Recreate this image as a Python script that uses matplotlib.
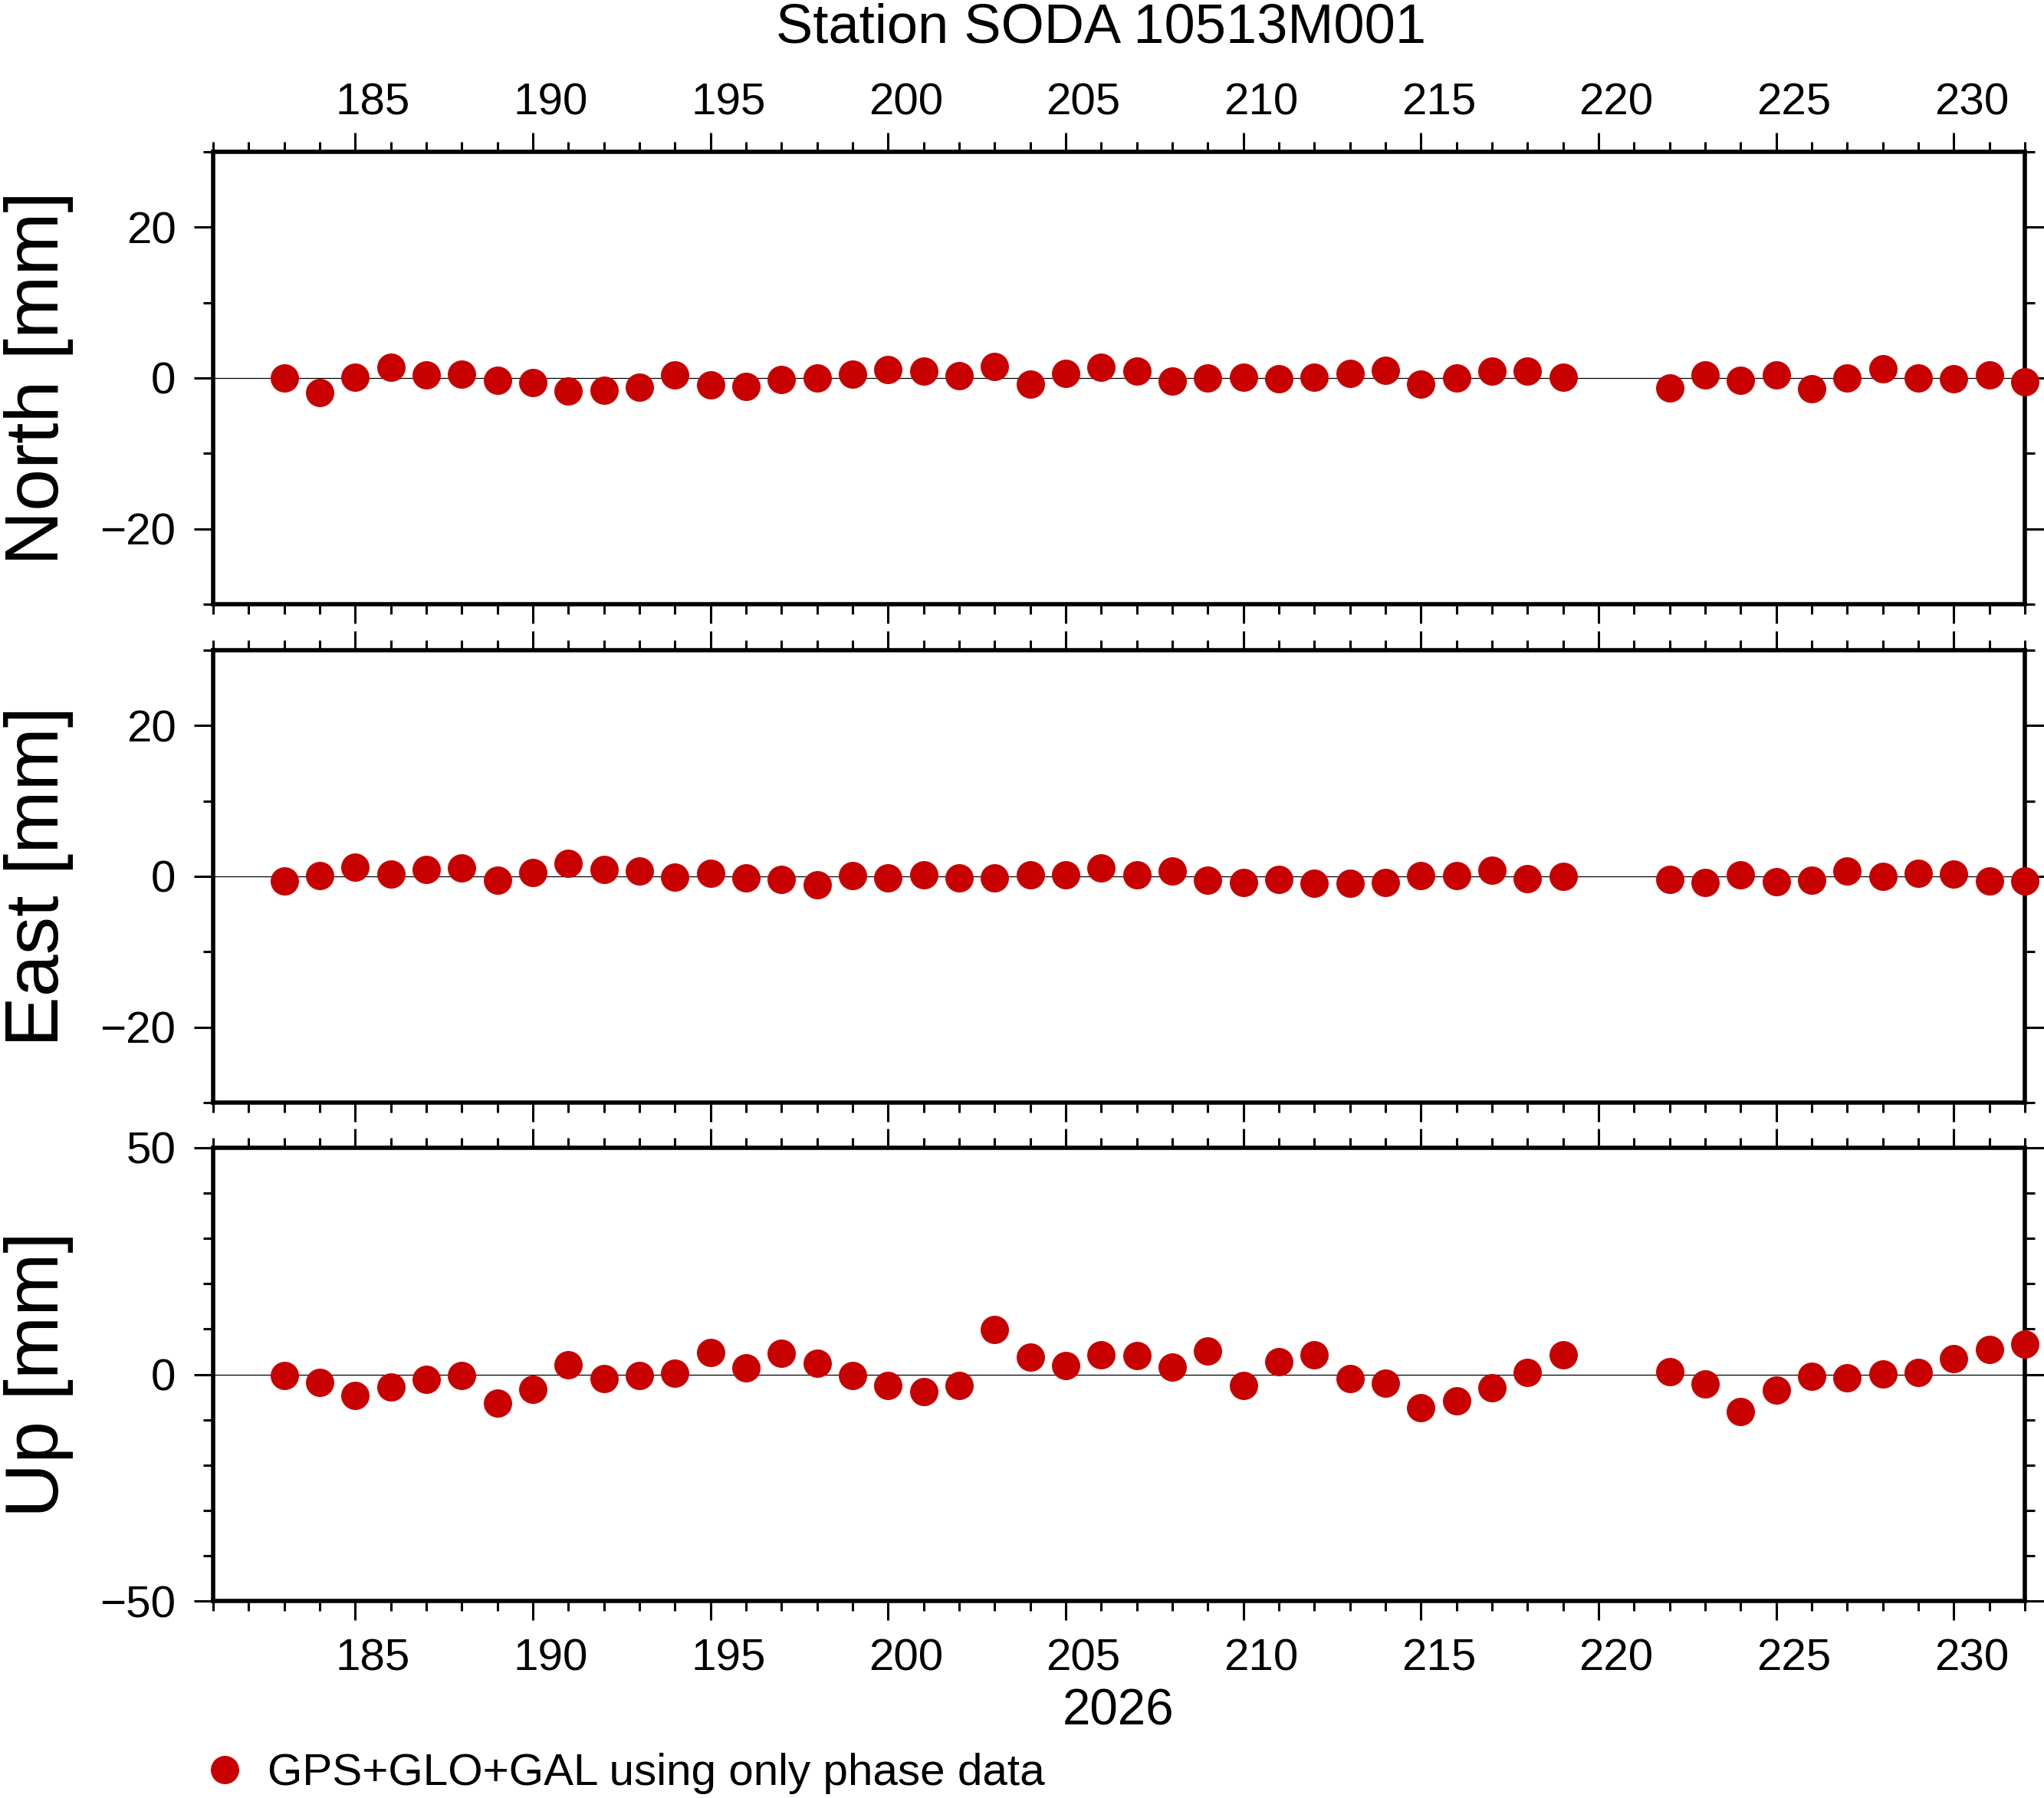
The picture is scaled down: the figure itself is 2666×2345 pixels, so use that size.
import matplotlib
matplotlib.use("Agg")
import matplotlib.pyplot as plt
from matplotlib.ticker import MultipleLocator
from matplotlib.transforms import ScaledTranslation

plt.rcParams['font.family'] = ['Liberation Sans', 'DejaVu Sans']

# day of year 2026 (no solutions on 220, 221)
days = [183, 184, 185, 186, 187, 188, 189, 190, 191, 192, 193, 194, 195, 196,
        197, 198, 199, 200, 201, 202, 203, 204, 205, 206, 207, 208, 209, 210,
        211, 212, 213, 214, 215, 216, 217, 218, 219,
        222, 223, 224, 225, 226, 227, 228, 229, 230, 231, 232]

north = [0.0, -1.9, 0.1, 1.4, 0.4, 0.5, -0.3, -0.6, -1.7, -1.6, -1.2, 0.4, -0.9, -1.1,
         -0.2, 0.0, 0.5, 1.1, 0.9, 0.3, 1.5, -0.8, 0.6, 1.4, 0.9, -0.4, 0.0, 0.1,
         -0.1, 0.1, 0.6, 1.0, -0.8, 0.0, 0.9, 0.9, 0.1,
         -1.3, 0.4, -0.3, 0.4, -1.4, 0.0, 1.2, 0.0, -0.1, 0.4, -0.5]

east = [-0.6, 0.1, 1.2, 0.3, 0.9, 1.1, -0.5, 0.5, 1.7, 0.9, 0.7, -0.1, 0.4, -0.2,
        -0.4, -1.1, 0.1, -0.2, 0.2, -0.2, -0.2, 0.2, 0.2, 1.1, 0.2, 0.7, -0.5, -0.8,
        -0.4, -0.9, -0.9, -0.8, 0.1, 0.1, 0.8, -0.3, 0.0,
        -0.4, -0.8, 0.2, -0.7, -0.5, 0.7, 0.0, 0.4, 0.3, -0.6, -0.6]

up = [-0.2, -1.7, -4.7, -2.8, -1.1, -0.3, -6.4, -3.3, 2.1, -1.0, -0.3, 0.2, 4.8, 1.4,
      4.6, 2.4, -0.3, -2.5, -3.8, -2.5, 9.9, 3.8, 1.9, 4.3, 4.1, 1.6, 5.1, -2.5,
      2.8, 4.3, -1.0, -2.0, -7.4, -5.9, -3.0, 0.4, 4.3,
      0.6, -2.1, -8.2, -3.5, -0.5, -0.8, 0.1, 0.4, 3.4, 5.5, 6.6]

components = ['North', 'East', 'Up']
series = [north, east, up]
ylims = [(-30, 30), (-30, 30), (-50, 50)]
ymajor = [20, 20, 50]
yminor = [10, 10, 10]

title = 'Station SODA 10513M001'
year_label = '2026'
legend_label = 'GPS+GLO+GAL using only phase data'
dot_color = '#c80000'

W, H = 2666, 2345
DPI = 200
fig = plt.figure(figsize=(W / DPI, H / DPI), dpi=DPI)

left, right = 278 / W, 2641 / W
panel_px = [(198, 788), (848, 1438), (1497, 2088)]
day_px = (2641 - 278) / (232 - 181)

handle = None
for i, (name, vals) in enumerate(zip(components, series)):
    top_px, bot_px = panel_px[i]
    ax = fig.add_axes([left, 1 - bot_px / H, right - left, (bot_px - top_px) / H])
    ax.axhline(0, color='black', lw=0.45, zorder=1)
    line, = ax.plot(days, vals, 'o', ms=13.3, color=dot_color, mec='none',
                    clip_on=False, zorder=3)
    if handle is None:
        handle = line
    ax.set_xlim(181, 232)
    ax.set_ylim(*ylims[i])
    ax.xaxis.set_major_locator(MultipleLocator(5))
    ax.xaxis.set_minor_locator(MultipleLocator(1))
    ax.yaxis.set_major_locator(MultipleLocator(ymajor[i]))
    ax.yaxis.set_minor_locator(MultipleLocator(yminor[i]))
    for sp in ax.spines.values():
        sp.set_linewidth(2.0)
    ax.tick_params(which='both', direction='out', top=True, bottom=True,
                   left=True, right=True, width=1.1, labelsize=21,
                   labeltop=(i == 0), labelbottom=(i == 2),
                   labelleft=True, labelright=False)
    ax.tick_params(which='major', length=9, pad=8.5)
    ax.tick_params(which='minor', length=4.6)
    # day labels sit in the middle of the day interval
    for tick in ax.xaxis.get_major_ticks():
        tick.label1.set_transform(tick.label1.get_transform() +
                                  ScaledTranslation(day_px / 2 / DPI, 0, fig.dpi_scale_trans))
        tick.label2.set_transform(tick.label2.get_transform() +
                                  ScaledTranslation(day_px / 2 / DPI, -12 / DPI, fig.dpi_scale_trans))
    fig.text(96 / W, 1 - (top_px + bot_px) / 2 / H, f'{name} [mm]',
             rotation=90, ha='right', va='center', fontsize=35.5)

fig.text(1436 / W, 1 - 55 / H, title, ha='center', va='baseline', fontsize=26)
fig.text(1459 / W, 1 - 2250 / H, year_label, ha='center', va='baseline', fontsize=23.6)

fig.legend([handle], [legend_label], loc='center left',
           bbox_to_anchor=(264 / W, 1 - 2313 / H), frameon=False,
           borderpad=0, borderaxespad=0, handlelength=1.0, handletextpad=0.45,
           fontsize=21)

fig.savefig('out.png', dpi=DPI)
